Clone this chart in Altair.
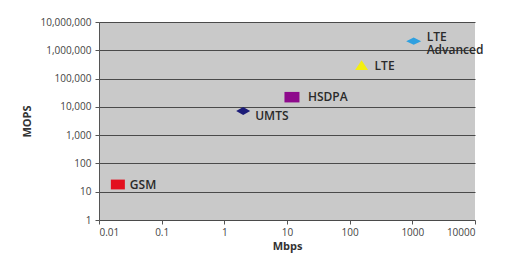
import altair as alt
import pandas as pd

# data
names = ["GSM", "UMTS", "HSDPA", "LTE", "LTE\nAdvanced"]
mbps = [0.02, 2.0, 12, 155, 1050]
mops = [18, 7100, 22000, 300000, 2100000]

# styles
colors = ["#e3101f", "#1c1c78", "#8e0a8c", "#f4ef10", "#2fa0e0"]
shapes = [
    "M-1,-0.7L1,-0.7L1,0.7L-1,0.7Z",
    "M-1,0L0,-0.57L1,0L0,0.57Z",
    "M-1,-0.7L1,-0.7L1,0.7L-1,0.7Z",
    "M0,-0.75L1,0.75L-1,0.75Z",
    "M-1,0L0,-0.48L1,0L0,0.48Z",
]
sizes = [196, 196, 225, 169, 225]
label_dx = [12, 12, 16, 13, 13]
label_dy = [1, 5, 0, 1, -4]

df = pd.DataFrame({"name": names, "mbps": mbps, "mops": mops,
                   "color": colors, "shape": shapes, "size": sizes})

FONT = "Open Sans"

xs = alt.Scale(type="log", domain=[0.01, 10000], nice=False)
ys = alt.Scale(type="log", domain=[1, 10000000], nice=False)

x = alt.X("mbps:Q", scale=xs, title="Mbps",
          axis=alt.Axis(values=[0.01, 0.1, 1, 10, 100, 1000, 10000],
                        labelExpr="format(datum.value, '~g')",
                        grid=False, domain=False, tickColor="#555", tickSize=4,
                        labelColor="#444", labelFont=FONT, labelFontSize=10,
                        labelPadding=3,
                        titleFont=FONT, titleFontSize=11, titleFontWeight="bold",
                        titleColor="#333", titlePadding=3))
y = alt.Y("mops:Q", scale=ys, title="MOPS",
          axis=alt.Axis(values=[1, 10, 100, 1000, 10000, 100000, 1000000, 10000000],
                        format=",", grid=True, gridColor="#4a4a4a", gridWidth=1.2,
                        domainColor="#555", tickColor="#555", tickSize=4,
                        labelColor="#444", labelFont=FONT, labelFontSize=10,
                        labelPadding=4,
                        titleFont=FONT, titleFontSize=11, titleFontWeight="bold",
                        titleColor="#333", titlePadding=8))

base = alt.Chart(df)
points = base.mark_point(filled=True, opacity=1, strokeWidth=0).encode(
    x=x, y=y,
    shape=alt.Shape("shape:N", scale=None),
    color=alt.Color("color:N", scale=None),
    size=alt.Size("size:Q", scale=None),
)

layers = [points]
for i, n in enumerate(names):
    layers.append(
        alt.Chart(df[df["name"] == n]).mark_text(
            align="left", baseline="middle", dx=label_dx[i], dy=label_dy[i],
            font=FONT, fontSize=12, fontWeight=600, color="#2a2a2a",
            lineBreak="\n", lineHeight=13,
        ).encode(x=alt.X("mbps:Q", scale=xs), y=alt.Y("mops:Q", scale=ys),
                 text="name:N")
    )

chart = alt.layer(*layers).properties(
    width=376, height=198,
    autosize=alt.AutoSizeParams(type="none"),
    padding={"left": 99, "top": 22, "right": 46, "bottom": 54},
    background="white",
).configure_view(fill="#c9c9c9", stroke=None)

chart.save("out.html", embed_options={"renderer": "svg", "actions": False})
